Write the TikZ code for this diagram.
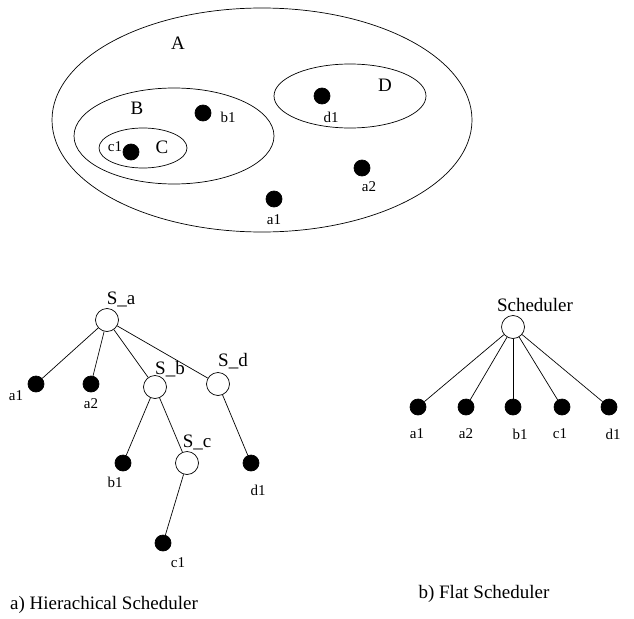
\documentclass[tikz,border=0pt]{standalone}
\usepackage{fontspec}
\setmainfont{Liberation Serif}
\usepackage{tikz}

\begin{document}
\begin{tikzpicture}[x=1pt, y=-1pt, line width=0.7pt,
    leaf/.style={circle, fill=black, draw=black, minimum size=16pt, inner sep=0pt},
    sched/.style={circle, draw=black, fill=white, minimum size=23pt, inner sep=0pt},
    lbl/.style={font=\fontsize{15}{15}\selectfont, inner sep=0pt},
    setlbl/.style={font=\fontsize{19}{19}\selectfont, inner sep=0pt},
    slbl/.style={font=\fontsize{19}{19}\selectfont, inner sep=0pt}]
  \useasboundingbox (0,0) rectangle (634,618);

  % Nested sets (top)
  \draw (262,120) ellipse [x radius=210, y radius=112];
  \draw (174,136) ellipse [x radius=100, y radius=48];
  \draw (143,148) ellipse [x radius=44, y radius=20];
  \draw (350,96) ellipse [x radius=76, y radius=32];

  \node[setlbl] (setA) at (178,43) {A};
  \node[setlbl] (setB) at (137,108) {B};
  \node[setlbl] (setC) at (162,147) {C};
  \node[setlbl] (setD) at (385,85) {D};

  % Members
  \node[leaf] (vc1) at (131,152) {};
  \node[lbl] at (115,147) {c1};
  \node[leaf] (vb1) at (203,113) {};
  \node[lbl] at (228,117) {b1};
  \node[leaf] (vd1) at (322,96) {};
  \node[lbl] at (331,117) {d1};
  \node[leaf] (va2) at (362,168) {};
  \node[lbl] at (369,187) {a2};
  \node[leaf] (va1) at (274,199) {};
  \node[lbl] at (274,220) {a1};

  % a) Hierachical scheduler tree
  \node[sched] (Sa) at (107,320) {};
  \node[slbl] at (121,299) {S\_a};
  \node[sched] (Sb) at (155,387) {};
  \node[slbl] at (170,369) {S\_b};
  \node[sched] (Sd) at (218,384) {};
  \node[slbl] at (233,361) {S\_d};
  \node[sched] (Sc) at (187,463) {};
  \node[slbl] at (197,442) {S\_c};

  \node[leaf] (ha1) at (36,384) {};
  \node[lbl] at (16,396) {a1};
  \node[leaf] (ha2) at (91,384) {};
  \node[lbl] at (91,404) {a2};
  \node[leaf] (hb1) at (123,463) {};
  \node[lbl] at (115,482) {b1};
  \node[leaf] (hd1) at (251,463) {};
  \node[lbl] at (258,490) {d1};
  \node[leaf] (hc1) at (163,543) {};
  \node[lbl] at (178,563) {c1};

  \draw (Sa) -- (ha1);
  \draw (Sa) -- (ha2);
  \draw (Sa) -- (Sb);
  \draw (Sa) -- (Sd);
  \draw (Sb) -- (hb1);
  \draw (Sb) -- (Sc);
  \draw (Sc) -- (hc1);
  \draw (Sd) -- (hd1);

  % b) Flat scheduler
  \node[sched] (flat) at (513,327) {};
  \node[slbl] at (535,305) {Scheduler};
  \foreach \nm/\xx/\lx in {a1/418/417, a2/466/466, b1/513/520, c1/562/560, d1/609/613} {
    \node[leaf] (f\nm) at (\xx,407) {};
    \node[lbl] at (\lx,434) {\nm};
    \draw (flat) -- (f\nm);
  }

  % Captions
  \node[setlbl] (capa) at (104,605) {a) Hierachical Scheduler};
  \node[setlbl] (capb) at (484,594) {b) Flat Scheduler};
\end{tikzpicture}
\end{document}
